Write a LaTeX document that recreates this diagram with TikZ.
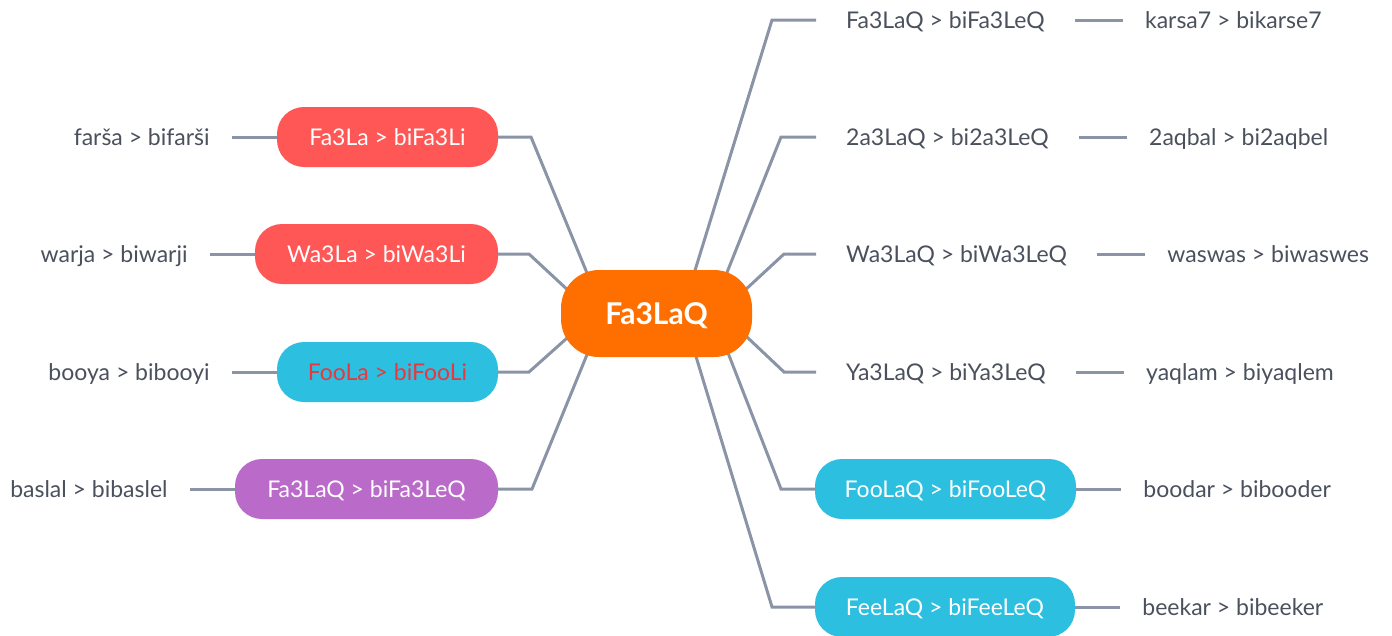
\documentclass[tikz,border=0pt]{standalone}
\usepackage{fontspec}
\setmainfont{Lato}
\usetikzlibrary{positioning,backgrounds}
\definecolor{linec}{HTML}{8A94A6}
\definecolor{textc}{HTML}{4A505C}
\definecolor{redbox}{HTML}{FF5656}
\definecolor{cyanbox}{HTML}{2DBFE0}
\definecolor{purplebox}{HTML}{BA6BC9}
\definecolor{orangebox}{HTML}{FF6F00}
\definecolor{redtext}{HTML}{E8383D}
\begin{document}
\begin{tikzpicture}[x=1pt,y=-1pt,
  conn/.style={draw=linec, line width=3pt, line join=miter},
  lbl/.style={font=\fontsize{23}{27}\selectfont, text height=16.5pt, text depth=0pt, inner ysep=0pt},
  box/.style={lbl, rounded corners=27pt, minimum height=60pt, text=white, inner xsep=0pt},
  leaf/.style={lbl, text=textc, inner xsep=22pt},
  mid/.style={lbl, text=textc, inner xsep=30pt, anchor=west},
  center/.style={rounded corners=38pt, fill=orangebox, minimum width=191pt, minimum height=87pt,
    text=white, font=\bfseries\fontsize{30}{34}\selectfont, text height=21.5pt, text depth=0pt, inner sep=0pt}
]
\useasboundingbox (0,0) rectangle (1392,635);

% central
\node[center] (c) at (656.5,313.5) {Fa3LaQ};

% left boxes
\node[box, fill=redbox, minimum width=221pt] (b1) at (387.5,137) {Fa3La > biFa3Li};
\node[box, fill=redbox, minimum width=243pt] (b2) at (376.5,254) {Wa3La > biWa3Li};
\node[box, fill=cyanbox, minimum width=221pt, text=redtext] (b3) at (387.5,372) {FooLa > biFooLi};
\node[box, fill=purplebox, minimum width=263pt] (b4) at (366.5,489) {Fa3LaQ > biFa3LeQ};

% left leaves
\node[leaf, left=45pt of b1] (l1) {farša > bifarši};
\node[leaf, left=45pt of b2] (l2) {warja > biwarji};
\node[leaf, left=45pt of b3] (l3) {booya > bibooyi};
\node[leaf, left=45pt of b4] (l4) {baslal > bibaslel};

% right mid texts
\node[mid] (m1) at (816,20) {Fa3LaQ > biFa3LeQ};
\node[mid] (m2) at (816,137) {2a3LaQ > bi2a3LeQ};
\node[mid] (m3) at (816,254) {Wa3LaQ > biWa3LeQ};
\node[mid] (m4) at (816,372) {Ya3LaQ > biYa3LeQ};
\node[box, fill=cyanbox, minimum width=261pt] (m5) at (945.5,489) {FooLaQ > biFooLeQ};
\node[box, fill=cyanbox, minimum width=260pt] (m6) at (945,607) {FeeLaQ > biFeeLeQ};

% right leaves
\node[leaf, right=48pt of m1] (r1) {karsa7 > bikarse7};
\node[leaf, right=48pt of m2] (r2) {2aqbal > bi2aqbel};
\node[leaf, right=48pt of m3] (r3) {waswas > biwaswes};
\node[leaf, right=48pt of m4] (r4) {yaqlam > biyaqlem};
\node[leaf, right=45pt of m5] (r5) {boodar > bibooder};
\node[leaf, right=45pt of m6] (r6) {beekar > bibeeker};

% elbows and inner ends
\coordinate (k1) at (531,137);  \coordinate (e1) at (594,290);
\coordinate (k2) at (529,254);  \coordinate (e2) at (585,306);
\coordinate (k3) at (529,372);  \coordinate (e3) at (585,322);
\coordinate (k4) at (532,489);  \coordinate (e4) at (593,340);
\coordinate (k5) at (772,20);   \coordinate (e5) at (689,290);
\coordinate (k6) at (781,137);  \coordinate (e6) at (720,290);
\coordinate (k7) at (784,254);  \coordinate (e7) at (730,304);
\coordinate (k8) at (784,372);  \coordinate (e8) at (730,321);
\coordinate (k9) at (781,489);  \coordinate (e9) at (723,340);
\coordinate (k10) at (772,607); \coordinate (e10) at (691,340);

\begin{scope}[on background layer]
\draw[conn] (b1.east) -- (k1) -- (e1);
\draw[conn] (b2.east) -- (k2) -- (e2);
\draw[conn] (b3.east) -- (k3) -- (e3);
\draw[conn] (b4.east) -- (k4) -- (e4);
\draw[conn] (m1.west) -- (k5) -- (e5);
\draw[conn] (m2.west) -- (k6) -- (e6);
\draw[conn] (m3.west) -- (k7) -- (e7);
\draw[conn] (m4.west) -- (k8) -- (e8);
\draw[conn] (m5.west) -- (k9) -- (e9);
\draw[conn] (m6.west) -- (k10) -- (e10);
\draw[conn] (l1) -- (b1);
\draw[conn] (l2) -- (b2);
\draw[conn] (l3) -- (b3);
\draw[conn] (l4) -- (b4);
\draw[conn] (m1) -- (r1);
\draw[conn] (m2) -- (r2);
\draw[conn] (m3) -- (r3);
\draw[conn] (m4) -- (r4);
\draw[conn] (m5) -- (r5);
\draw[conn] (m6) -- (r6);
\end{scope}
\end{tikzpicture}
\end{document}
